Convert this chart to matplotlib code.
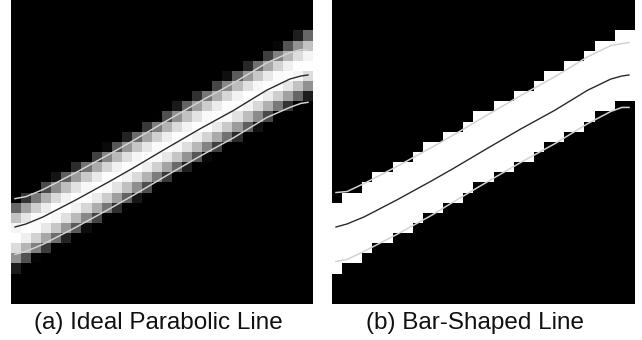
import numpy as np
import matplotlib.pyplot as plt

plt.rcParams['font.family'] = ['Liberation Sans', 'DejaVu Sans']

# 30x30 pixel grid, straight band drawn in the raster
grid_n = 30
band_x = [0.5, 29.5]        # column centres at the two ends
band_y = [23.2, 6.2]        # band centre row at those columns
band_half = 3.5             # vertical half width (in pixels)

# overlay curves (pixel units, y downwards)
curve_x = [0.4, 1.5, 3.2, 6.5, 9.8, 12.1, 15.5, 18.8, 22.1, 25.4, 27.7, 28.8, 29.5]
center_y = [22.4, 22.1, 21.4, 19.7, 17.9, 16.6, 14.6, 12.7, 10.9, 8.9, 7.8, 7.5, 7.4]
upper_a = [19.6, 19.4, 18.7, 17.0, 15.2, 13.9, 11.9, 10.0, 8.2, 6.2, 5.2, 4.9, 4.9]
lower_a = [25.1, 24.8, 24.1, 22.4, 20.6, 19.3, 17.3, 15.4, 13.6, 11.6, 10.6, 10.2, 10.1]
upper_b = [19.0, 18.9, 18.1, 16.4, 14.6, 13.3, 11.3, 9.4, 7.6, 5.6, 4.5, 4.3, 4.2]
lower_b = [25.8, 25.6, 24.8, 23.1, 21.3, 19.9, 17.9, 16.0, 14.2, 12.2, 11.0, 10.6, 10.6]

captions = ["(a) Ideal Parabolic Line", "(b) Bar-Shaped Line"]
caption_x = [158, 475]

cols = np.arange(grid_n) + 0.5
rows = np.arange(grid_n) + 0.5
yc = np.interp(cols, band_x, band_y)
d = rows[:, None] - yc[None, :]
img_a = np.clip(1 - (d / band_half) ** 2, 0, 1)
img_b = (np.abs(d) < band_half).astype(float)

W, H = 642, 340
fig = plt.figure(figsize=(W / 100, H / 100), dpi=100)

panels = [(11, img_a, upper_a, lower_a), (332, img_b, upper_b, lower_b)]
for left, img, up, lo in panels:
    ax = fig.add_axes([left / W, (H - 304) / H, 302 / W, 304 / H])
    ax.imshow(img, cmap='gray', vmin=0, vmax=1, interpolation='nearest',
              extent=[0, grid_n, grid_n, 0], aspect='auto')
    ax.plot(curve_x, up, color='#d2d2d2', lw=1.1)
    ax.plot(curve_x, lo, color='#d2d2d2', lw=1.1)
    ax.plot(curve_x, center_y, color='#2a2a2a', lw=1.0)
    ax.set_xlim(0, grid_n)
    ax.set_ylim(grid_n, 0)
    ax.axis('off')

for cx, cap in zip(caption_x, captions):
    fig.text(cx / W, (H - 323) / H, cap, ha='center', va='center',
             fontsize=17.5, color='#111111')

fig.savefig('out.png', dpi=100)
